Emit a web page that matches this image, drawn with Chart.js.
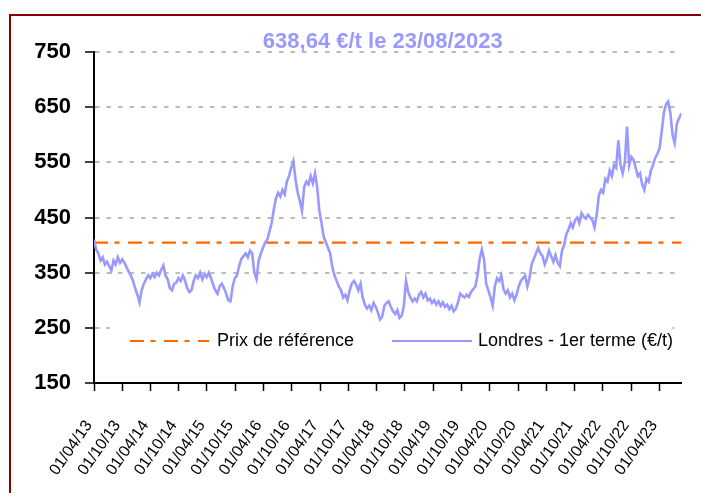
<!DOCTYPE html>
<html>
<head>
<meta charset="utf-8">
<script src="https://cdn.jsdelivr.net/npm/chart.js@4.4.0/dist/chart.umd.min.js"></script>
<style>
  body { margin: 0; background: #fff; }
  #wrap { position: relative; width: 701px; height: 493px; overflow: hidden; }
  #frame { position: absolute; left: 9px; top: 14px; width: 720px; height: 520px;
           border-top: 2px solid #8b0000; border-left: 2px solid #8b0000; }
</style>
</head>
<body>
<div id="wrap">
  <div id="frame"></div>
  <canvas id="myChart"></canvas>
</div>
<script>
// London white sugar, 1st position, EUR/t - one reading every 14 days from 01/04/13
const startDate = "01/04/13";
const stepDays = 14;
const prices = [
  410, 392, 385, 372, 378, 365, 370, 362, 354, 372,
  365, 378, 368, 374, 368, 360, 352, 345, 335, 322,
  310, 296, 318, 330, 338, 345, 340, 348, 342, 350,
  345, 355, 363, 345, 338, 322, 318, 330, 332, 340,
  335, 345, 336, 322, 315, 318, 335, 345, 340, 350,
  338, 348, 342, 350, 340, 328, 318, 312, 325, 330,
  322, 312, 300, 298, 325, 340, 345, 362, 375, 380,
  385, 378, 390, 385, 350, 338, 372, 385, 395, 405,
  410, 425, 440, 465, 485, 495, 488, 500, 492, 515,
  525, 540, 552, 520, 495, 480, 462, 505, 515, 510,
  525, 512, 530, 505, 462, 440, 415, 405, 395, 385,
  360, 345, 335, 325, 318, 305, 310, 300, 318, 330,
  335, 328, 318, 330, 305, 292, 285, 290, 282, 295,
  288, 278, 265, 270, 290, 295, 298, 288, 280, 275,
  282, 268, 272, 290, 335, 315, 305, 298, 303, 298,
  310, 315, 305, 312, 300, 303, 295, 300, 292, 298,
  290, 296, 288, 292, 284, 290, 280, 285, 296, 312,
  308, 305, 310, 306, 315, 320, 325, 345, 375, 392,
  375, 330, 318, 305, 290, 325, 340, 335, 345, 320,
  312, 318, 305, 312, 300, 310, 325, 335, 340, 345,
  325, 340, 365, 375, 385, 395, 385, 380, 365, 375,
  390, 380, 370, 382, 368, 362, 390, 400, 420, 428,
  440, 432, 445, 450, 440, 458, 452, 448, 455, 450,
  445, 432, 455, 490, 500, 495, 520, 515, 535, 525,
  545, 540, 590, 545, 530, 550, 615, 545, 560, 555,
  540, 525, 530, 510, 500, 520, 515, 535, 545, 558,
  565, 575, 605, 640, 655, 660, 640, 600, 585, 620, 630
];
const lastDate = "23/08/23";
const lastPrice = 638.64;
const refPrice = 404.4;

const tickLabels = [
  "01/04/13", "01/10/13", "01/04/14", "01/10/14", "01/04/15", "01/10/15",
  "01/04/16", "01/10/16", "01/04/17", "01/10/17", "01/04/18", "01/10/18",
  "01/04/19", "01/10/19", "01/04/20", "01/10/20", "01/04/21", "01/10/21",
  "01/04/22", "01/10/22", "01/04/23"
];

const titleText = "638,64 €/t le 23/08/2023";
const lineColor = "#9999ff";
const refColor = "#ff6600";
const refDash = [14, 6.5, 5, 8.5];
const fontFamily = "'Liberation Sans', Arial, sans-serif";

function toUTC(s) {
  const p = s.split("/").map(Number);
  return Date.UTC(2000 + p[2], p[1] - 1, p[0]);
}
function dayOf(s) {
  return (toUTC(s) - toUTC(startDate)) / 86400000;
}

const tickDays = tickLabels.map(dayOf);
const endDay = dayOf(lastDate);

const seriesData = prices.map((v, i) => ({ x: i * stepDays, y: v }));
seriesData.push({ x: endDay, y: lastPrice });

const extras = {
  id: "extras",
  beforeDatasetsDraw(chart) {
    const a = chart.chartArea, ctx = chart.ctx;
    ctx.save();
    ctx.fillStyle = "#fff";
    ctx.fillRect(a.left + 16, a.bottom - 56, a.right - a.left - 25, 29);
    ctx.restore();
  },
  afterDatasetsDraw(chart) {
    const a = chart.chartArea, ctx = chart.ctx;
    const y = a.bottom - 42;
    const ds = chart.data.datasets;
    ctx.save();
    ctx.lineWidth = 2.2;
    ctx.strokeStyle = refColor;
    ctx.setLineDash(refDash);
    ctx.beginPath();
    ctx.moveTo(a.left + 36, y);
    ctx.lineTo(a.left + 115, y);
    ctx.stroke();
    ctx.setLineDash([]);
    ctx.strokeStyle = lineColor;
    ctx.lineWidth = 2;
    ctx.beginPath();
    ctx.moveTo(a.left + 298, y);
    ctx.lineTo(a.left + 378, y);
    ctx.stroke();
    ctx.fillStyle = "#000";
    ctx.font = "18px " + fontFamily;
    ctx.textBaseline = "middle";
    ctx.fillText(ds[1].label, a.left + 123, y);
    ctx.fillText(ds[0].label, a.left + 384, y);

    ctx.fillStyle = lineColor;
    ctx.font = "bold 22px " + fontFamily;
    ctx.textAlign = "center";
    ctx.textBaseline = "alphabetic";
    ctx.fillText(titleText, (a.left + a.right) / 2 - 5, a.top - 4);
    ctx.restore();
  }
};

new Chart("myChart", {
  type: "line",
  data: {
    datasets: [
      {
        label: "Londres - 1er terme (€/t)",
        data: seriesData,
        borderColor: lineColor,
        borderWidth: 2.6,
        pointRadius: 0,
        tension: 0,
        fill: false,
      },
      {
        label: "Prix de référence",
        data: [{ x: 0, y: refPrice }, { x: endDay, y: refPrice }],
        borderColor: refColor,
        borderWidth: 2.2,
        borderDash: refDash,
        pointRadius: 0,
        fill: false,
      },
    ],
  },
  options: {
    responsive: true,
    maintainAspectRatio: false,
    animation: false,
    layout: { padding: { left: 10, right: 2, top: 52, bottom: 0 } },
    plugins: {
      legend: { display: false },
      title: { display: false },
      tooltip: { enabled: false },
    },
    scales: {
      x: {
        type: "linear",
        min: 0,
        max: endDay,
        afterBuildTicks: (scale) => {
          scale.ticks = tickDays.map((d) => ({ value: d }));
        },
        afterFit: (scale) => { scale.height = 110; },
        ticks: {
          autoSkip: false,
          minRotation: 55,
          maxRotation: 55,
          padding: 26,
          labelOffset: -5,
          color: "#000",
          font: { family: fontFamily, size: 16 },
          callback: (value) => tickLabels[tickDays.indexOf(value)],
        },
        grid: {
          drawOnChartArea: false,
          drawTicks: true,
          tickLength: 8,
          tickColor: "#000",
          tickWidth: 1.5,
          color: "#000",
        },
        border: { display: true, color: "#000", width: 2 },
      },
      y: {
        min: 150,
        max: 750,
        afterFit: (scale) => { scale.width = 84; },
        ticks: {
          stepSize: 100,
          padding: 14,
          color: "#000",
          font: { family: fontFamily, size: 22, weight: "bold" },
        },
        grid: {
          color: (ctx) => (ctx.tick && ctx.tick.value === 150 ? "rgba(0,0,0,0)" : "#bbbbbb"),
          lineWidth: 2,
          tickLength: 9,
          tickColor: "#000",
          tickWidth: 1.5,
        },
        border: { display: true, color: "#000", width: 2, dash: [4.5, 7] },
      },
    },
  },
  plugins: [extras],
});
</script>
</body>
</html>
